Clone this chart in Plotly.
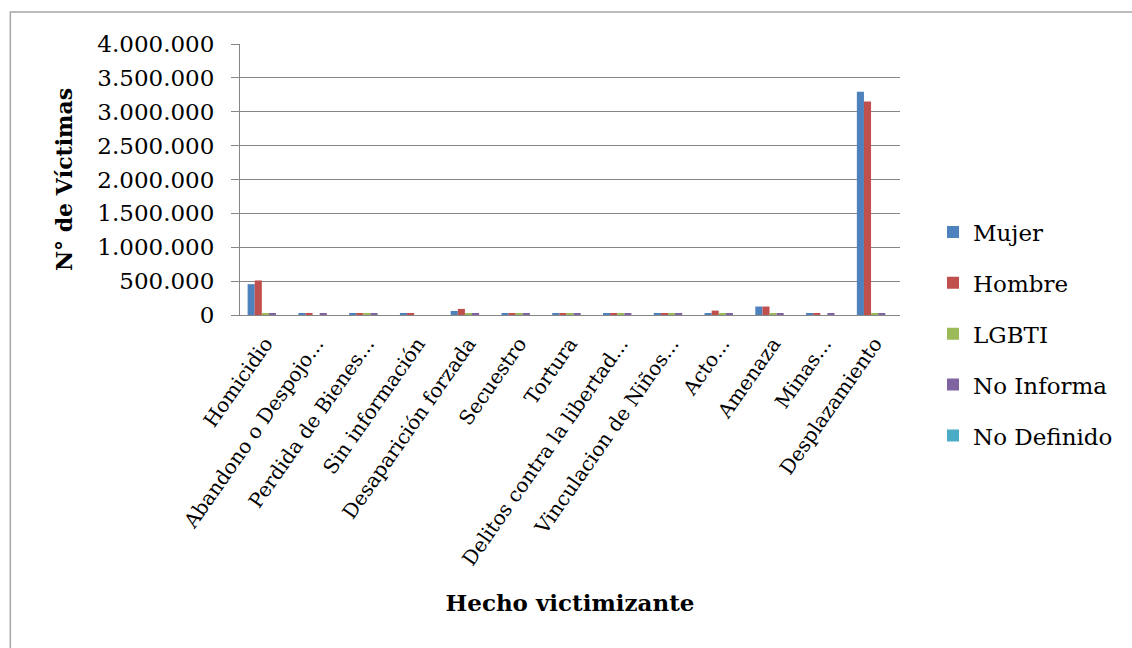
import plotly.graph_objects as go

categories = ["Homicidio", "Abandono o Despojo...", "Perdida de Bienes...", "Sin información",
              "Desaparición forzada", "Secuestro", "Tortura", "Delitos contra la libertad...",
              "Vinculacion de Niños...", "Acto...", "Amenaza", "Minas...", "Desplazamiento"]
mujer = [455000, 30000, 30000, 30000, 60000, 30000, 30000, 30000, 30000, 30000, 125000, 30000, 3295000]
hombre = [510000, 30000, 30000, 30000, 90000, 30000, 30000, 30000, 30000, 65000, 125000, 30000, 3150000]
lgbti = [30000, 0, 30000, 0, 30000, 30000, 30000, 30000, 30000, 30000, 30000, 0, 30000]
no_informa = [30000, 30000, 30000, 0, 30000, 30000, 30000, 30000, 30000, 30000, 30000, 30000, 30000]
no_definido = [0, 0, 0, 0, 0, 0, 0, 0, 0, 0, 0, 0, 0]

series = [("Mujer", mujer, "#4F81BD"), ("Hombre", hombre, "#C0504D"), ("LGBTI", lgbti, "#9BBB59"),
          ("No Informa", no_informa, "#8064A2"), ("No Definido", no_definido, "#4BACC6")]

FONT = "DejaVu Serif"
fig = go.Figure()
for name, vals, col in series:
    fig.add_trace(go.Bar(x=categories, y=vals, name=name, marker_color=col,
                         marker_line_width=0, legendgroup=name))

fig.update_layout(
    width=1132, height=648,
    margin=dict(l=240, r=232, t=44, b=333),
    paper_bgcolor="white", plot_bgcolor="white",
    barmode="group", bargap=0.3, bargroupgap=0,
    font=dict(family=FONT, size=22, color="#000000"),
    legend=dict(x=1.05, xanchor="left", y=-0.07, yanchor="middle",
                font=dict(family=FONT, size=23), tracegroupgap=18,
                traceorder="grouped", itemwidth=30),
    xaxis=dict(tickangle=-55, tickfont=dict(family=FONT, size=20),
               showline=True, linecolor="#868686", linewidth=1,
               ticks="", showgrid=False, ticklabelstandoff=8,
               title=dict(text="<b>Hecho victimizante</b>", font=dict(family=FONT, size=23),
                          standoff=25)),
    yaxis=dict(range=[0, 4000000], tickvals=[0, 500000, 1000000, 1500000, 2000000, 2500000,
                                             3000000, 3500000, 4000000],
               ticktext=["0", "500.000", "1.000.000", "1.500.000", "2.000.000", "2.500.000",
                         "3.000.000", "3.500.000", "4.000.000"],
               tickfont=dict(family=FONT, size=23),
               showgrid=True, gridcolor="#868686", gridwidth=1,
               showline=True, linecolor="#868686", linewidth=1,
               ticks="outside", ticklen=8, tickcolor="#868686", ticklabelstandoff=12,
               zeroline=False,
               title=dict(text="<b>N° de Víctimas</b>", font=dict(family=FONT, size=22),
                          standoff=18)),
    shapes=[dict(type="rect", xref="paper", yref="paper", x0=-0.348, x1=1.355, y0=-1.24, y1=1.118,
                 line=dict(color="#A6A6A6", width=1.5), fillcolor="rgba(0,0,0,0)", layer="below")],
)

fig.write_html("out.html")
